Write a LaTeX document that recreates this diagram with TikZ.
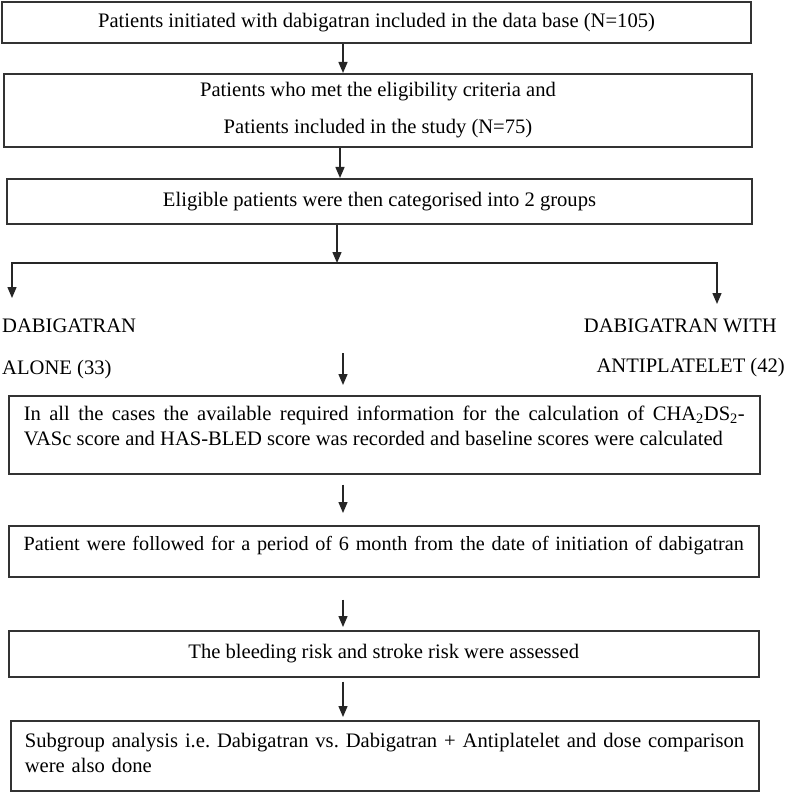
\documentclass[tikz,border=0pt]{standalone}
\usepackage{fontspec}
\setmainfont{Liberation Serif}
\usetikzlibrary{arrows.meta}
\frenchspacing

\begin{document}
\begin{tikzpicture}[x=1pt,y=-1pt,
  box/.style={draw=black!80,line width=1.6pt,inner sep=0pt,font=\fontsize{20.6}{25}\selectfont},
  grp/.style={inner sep=0pt,font=\fontsize{20.6}{25}\selectfont},
  arr/.style={-{Triangle[length=11pt,width=9pt]},line width=1.4pt,black!85}]
\useasboundingbox (0,0) rectangle (790,794);
\node[box,minimum width=749pt,minimum height=41pt,anchor=north] (database) at (376.5,1) {Patients initiated with dabigatran included in the data base (N=105)};
\node[box,minimum width=748pt,minimum height=73pt,anchor=north,align=center] (eligible) at (378,73) {Patients who met the eligibility criteria and\\[12pt]Patients included in the study (N=75)};
\node[box,minimum width=745pt,minimum height=45pt,anchor=north] (groups) at (379.5,178) {Eligible patients were then categorised into 2 groups};
\node[grp,anchor=north west,align=left] (alone) at (2,319) {DABIGATRAN\\[17pt]ALONE (33)};
\node[grp,anchor=north east,align=right] (combo) at (785,319) {DABIGATRAN WITH\hspace*{8pt}\\[15pt]ANTIPLATELET (42)};
\node[box,anchor=north west,text width=721pt,inner xsep=15pt,inner ysep=8pt,text height=17pt,text depth=45pt,align=justify] (scores) at (8,395) {In all the cases the available required information for the calculation of CHA\textsubscript{2}DS\textsubscript{2}-\linebreak VASc score and HAS-BLED score was recorded and baseline scores were calculated};
\node[box,anchor=north west,text width=740pt,inner xsep=5pt,inner ysep=8pt,text height=17pt,text depth=18pt,align=center,font=\fontsize{20.2}{25}\selectfont] (followup) at (8,525) {Patient were followed for a period of 6 month from the date of initiation of dabigatran};
\node[box,minimum width=750pt,minimum height=46pt,anchor=north west] (assess) at (8,630) {The bleeding risk and stroke risk were assessed};
\node[box,anchor=north west,text width=722pt,inner xsep=13pt,inner ysep=8pt,text height=19pt,text depth=35pt,align=left] (subgroup) at (10,720) {\hspace*{1pt}Subgroup analysis i.e. Dabigatran vs. Dabigatran + Antiplatelet and dose comparison\\\hspace*{1pt}were also done};
\coordinate (spine) at (343,0);
\coordinate (fork) at (337,263);
\coordinate (leftend) at (12,298);
\coordinate (rightend) at (717,304);
\coordinate (midstart) at (343,353);
\draw[arr] (database.south -| spine) -- (eligible.north -| spine);
\draw[arr] ([xshift=-3pt]eligible.south -| spine) -- ([xshift=-3pt]groups.north -| spine);
\draw[arr] (groups.south -| fork) -- (fork);
\draw[arr] (fork) -| (leftend);
\draw[arr] (fork) -| (rightend);
\draw[arr,shorten >=10pt] (midstart) -- (scores.north -| midstart);
\draw[arr,shorten <=10pt,shorten >=12pt] (scores.south -| spine) -- (followup.north -| spine);
\draw[arr,shorten <=22pt,shorten >=3pt] (followup.south -| spine) -- (assess.north -| spine);
\draw[arr,shorten <=4pt,shorten >=3pt] (assess.south -| spine) -- (subgroup.north -| spine);
\end{tikzpicture}
\end{document}
